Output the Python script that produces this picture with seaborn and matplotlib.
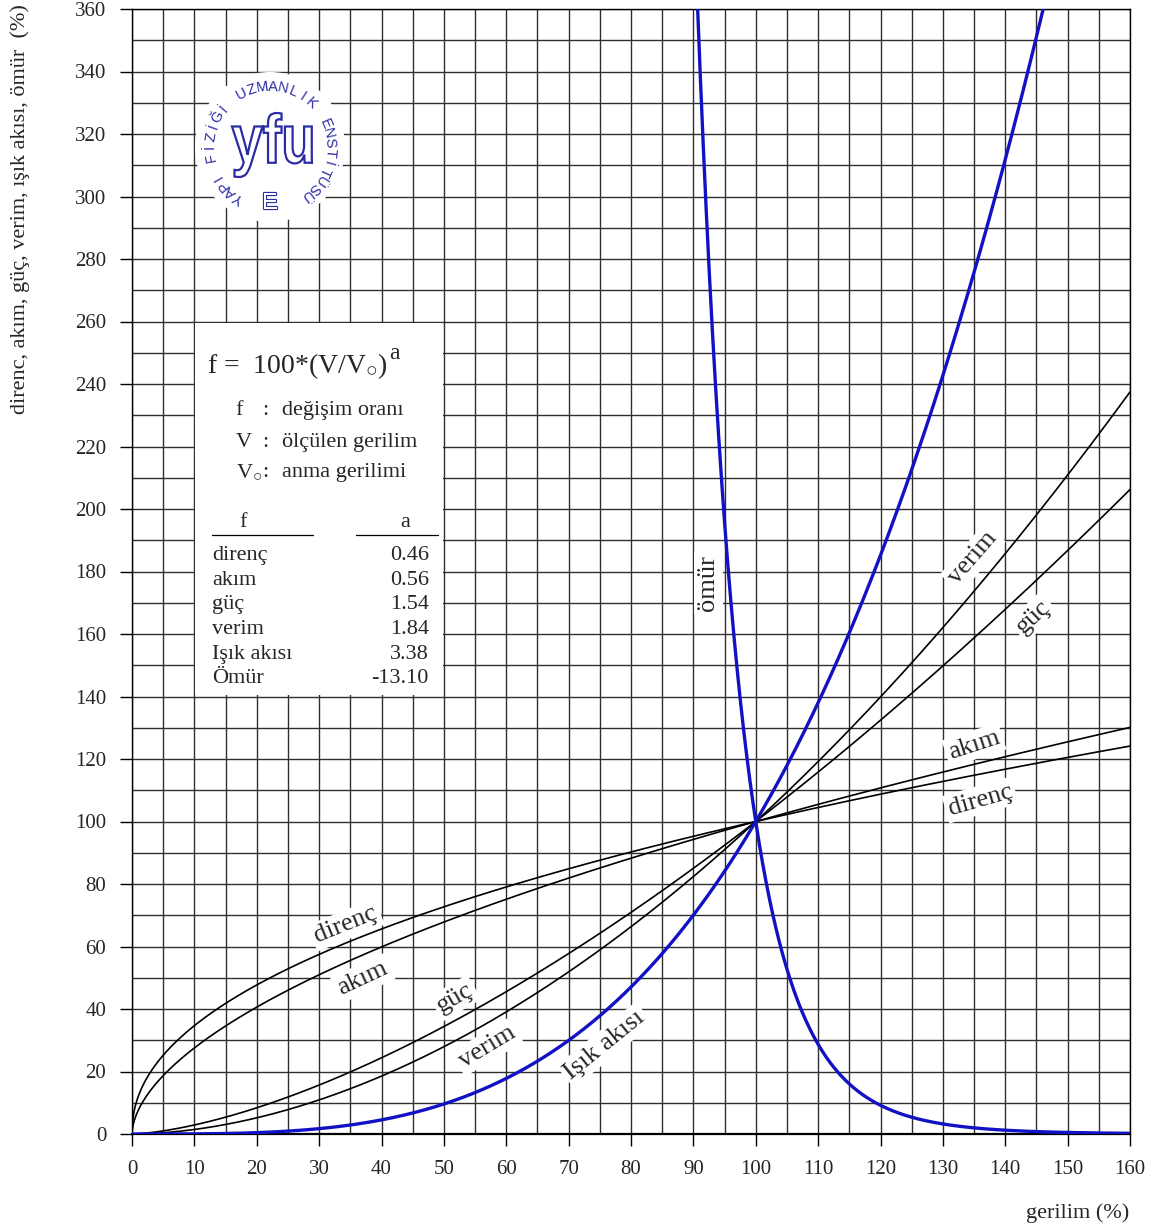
import numpy as np
import pandas as pd
import matplotlib
matplotlib.use("Agg")
import matplotlib.pyplot as plt
import matplotlib.patheffects as pe
from matplotlib.patches import Rectangle, Circle, PathPatch
from matplotlib.textpath import TextPath
from matplotlib.font_manager import FontProperties
from matplotlib.transforms import Affine2D
from matplotlib.ticker import MultipleLocator
import seaborn as sns

# ---------------- data (from the chart's own table) ----------------
names = ["direnç", "akım", "güç", "verim", "Işık akısı", "Ömür"]
exponents = [0.46, 0.56, 1.54, 1.84, 3.38, -13.10]
exponent_labels = ["0.46", "0.56", "1.54", "1.84", "3.38", "-13.10"]
curve_colors = ["black", "black", "black", "black", "#1212c4", "#1212c4"]
curve_widths = [1.2, 1.2, 1.2, 1.2, 2.4, 2.4]
x_start = [0, 0, 0, 0, 0, 85]
x_ticks = list(range(0, 161, 10))
y_ticks = list(range(0, 361, 20))

# curve labels: text, x, y, rotation
curve_labels = [
    ("ömür", 92.4, 176.3, 90),
    ("verim", 134.8, 184.3, 49),
    ("güç", 144.5, 165.4, 43),
    ("akım", 135.0, 124.5, 18),
    ("direnç", 136.0, 106.9, 16),
    ("direnç", 34.3, 66.9, 22),
    ("akım", 37.0, 49.8, 25),
    ("güç", 51.8, 43.5, 30),
    ("verim", 56.9, 27.8, 31),
    ("Işık akısı", 75.8, 28.5, 39),
]

sns.set_style("white")
plt.rcParams["font.family"] = ["Liberation Serif", "DejaVu Serif"]
plt.rcParams["mathtext.fontset"] = "custom"
plt.rcParams["mathtext.rm"] = "Liberation Serif"
plt.rcParams["mathtext.it"] = "Liberation Serif:italic"

W, H = 1164, 1228
fig = plt.figure(figsize=(W / 100, H / 100), dpi=100)
ax = fig.add_axes([132 / W, 94 / H, 998 / W, 1125 / H])

# ---------------- curves ----------------
for name, a, col, lw, xs in zip(names, exponents, curve_colors, curve_widths, x_start):
    V = np.linspace(max(xs, 0), 160, 3201)
    if a < 0:
        V = V[V > 0]
    f = 100.0 * (V / 100.0) ** a
    df = pd.DataFrame({"V": V, "f": f})
    df = df[df["f"] <= 420]
    sns.lineplot(data=df, x="V", y="f", ax=ax, color=col, linewidth=lw,
                 estimator=None, sort=False, zorder=3)

ax.set_xlim(0, 160)
ax.set_ylim(0, 360)
ax.set_xticks(x_ticks)
ax.set_yticks(y_ticks)
ax.xaxis.set_minor_locator(MultipleLocator(5))
ax.yaxis.set_minor_locator(MultipleLocator(10))
ax.set_axisbelow(True)
ax.grid(True, which="both", color="#2e2e2e", linewidth=1.0)
ax.tick_params(axis="both", which="major", direction="out", length=8.5, width=1.0,
               color="black", labelsize=15, pad=10)
ax.tick_params(axis="both", which="minor", length=0)
ax.tick_params(axis="x", bottom=True)
ax.tick_params(axis="y", left=True)
for s in ax.spines.values():
    s.set_color("black")
    s.set_linewidth(1.0)
ax.spines["bottom"].set_linewidth(1.6)
ax.set_xlabel("")
ax.set_ylabel("")

# ---------------- curve labels ----------------
for txt, x, y, rot in curve_labels:
    ax.text(x, y, txt, rotation=rot, ha="center", va="center",
            fontsize=19, zorder=5, rotation_mode="anchor",
            bbox=dict(boxstyle="square,pad=0.12", facecolor="white", edgecolor="none"))

# ---------------- legend / formula box ----------------
ax.add_patch(Rectangle((10.15, 140.6), 39.7, 118.8, facecolor="white",
                       edgecolor="none", zorder=1.5))
ftxt = ax.text(12.0, 243.5, r"f =  100*(V/$\mathrm{V}_{\bigcirc}$)", fontsize=20,
               ha="left", va="baseline", zorder=4)
ax.annotate("a", xy=(1, 0), xycoords=ftxt, xytext=(1, 16),
            textcoords="offset points", fontsize=17, ha="left", va="baseline", zorder=4)
defs = [("f", "değişim oranı", 230.1), ("V", "ölçülen gerilim", 219.8),
        (r"$\mathrm{V}_{\bigcirc}$", "anma gerilimi", 210.2)]
for sym, desc, yy in defs:
    ax.text(16.6, yy, sym, fontsize=16, ha="left", va="baseline", zorder=4)
    ax.text(21.4, yy, ":", fontsize=16, ha="center", va="baseline", zorder=4)
    ax.text(24.1, yy, desc, fontsize=16, ha="left", va="baseline", zorder=4)
ax.text(17.8, 194.2, "f", fontsize=16, ha="center", va="baseline", zorder=4)
ax.text(43.8, 194.2, "a", fontsize=16, ha="center", va="baseline", zorder=4)
ax.plot([12.8, 29.0], [191.7, 191.7], color="black", lw=0.9, zorder=4)
ax.plot([35.9, 49.0], [191.7, 191.7], color="black", lw=0.9, zorder=4)
row_y = 183.7
for nm, lab in zip(names, exponent_labels):
    ax.text(12.8, row_y, nm, fontsize=16, ha="left", va="baseline", zorder=4)
    ax.text(47.6, row_y, lab, fontsize=16, ha="right", va="baseline", zorder=4)
    row_y -= 7.9

# ---------------- logo ----------------
tr = fig.dpi_scale_trans
cx, cy = 2.70, (H - 147) / 100
logo_blue = "#2b2ba6"
ax.add_patch(Circle((cx, cy), 0.75, transform=tr, facecolor="white",
                    edgecolor="none", zorder=1.5))
tp = TextPath((0, 0), "yfu", size=1.0,
              prop=FontProperties(family="Liberation Sans", weight="bold"))
bb = tp.get_extents()
sx, sy = 0.80 / bb.width, 0.64 / bb.height
ltr = (Affine2D().translate(-bb.x0 - bb.width / 2, -bb.y0 - bb.height / 2)
       .scale(sx, sy).translate(2.72, (H - 145) / 100))
ax.add_patch(PathPatch(ltr.transform_path(tp), transform=tr, facecolor="white",
                       edgecolor=logo_blue, lw=1.6, zorder=4))
ax.text(cx, (H - 203) / 100, "E", transform=tr, fontsize=17,
        family="Liberation Sans", color="white", ha="center", va="center", zorder=4,
        path_effects=[pe.withStroke(linewidth=1.6, foreground=logo_blue)])
segments = [("YAPI", 238, 210), ("FİZİĞİ", 190, 140), ("UZMANLIK", 118, 47),
            ("ENSTİTÜSÜ", 23, -53)]
r = 0.60
for word, a0, a1 in segments:
    angs = np.linspace(a0, a1, len(word))
    for ch, th in zip(word, angs):
        t = np.deg2rad(th)
        ax.text(cx + r * np.cos(t), cy + r * np.sin(t), ch, transform=tr,
                fontsize=10.5, family="Liberation Sans", color=logo_blue,
                rotation=th - 90, ha="center", va="center", zorder=4)

# ---------------- axis titles ----------------
fig.text(20 / W, 1 - 4 / H, "direnc, akım, güç, verim, ışık akısı, ömür  (%)",
         rotation=90, ha="center", va="top", fontsize=16)
fig.text(1129 / W, 1 - 1218 / H, "gerilim (%)", ha="right", va="baseline", fontsize=16)

fig.savefig("out.png", dpi=100)
